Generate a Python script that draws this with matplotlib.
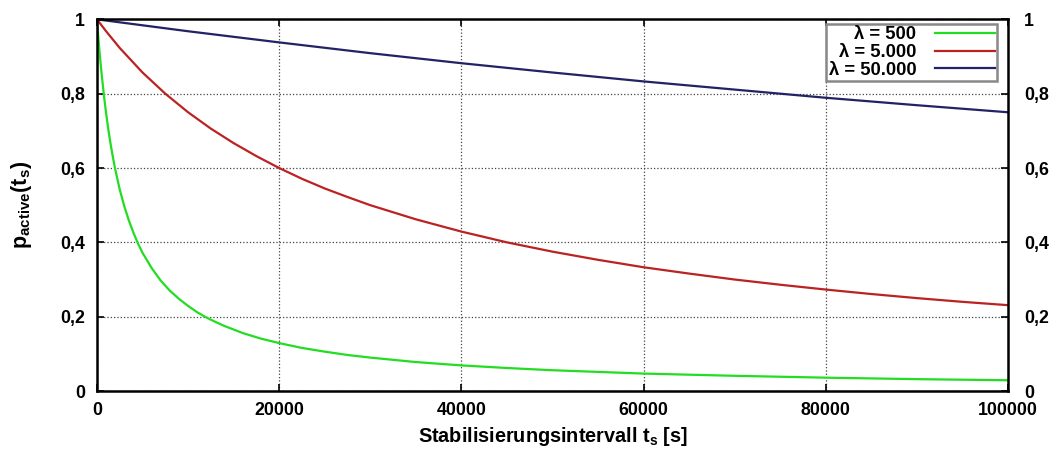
import matplotlib
matplotlib.use("Agg")
import matplotlib.pyplot as plt
from matplotlib.ticker import FuncFormatter

plt.rcParams["font.family"] = ["Liberation Sans", "DejaVu Sans"]
plt.rcParams["font.weight"] = "bold"
plt.rcParams["mathtext.fontset"] = "custom"
plt.rcParams["mathtext.rm"] = "Liberation Sans:bold"
plt.rcParams["mathtext.it"] = "Liberation Sans:bold"
plt.rcParams["mathtext.bf"] = "Liberation Sans:bold"

# -----------------------------
# DATA
# -----------------------------

t_500 = [0, 100, 250, 400, 500, 750, 1000, 1250, 1500, 1750, 2000, 2500,
         3000, 3500, 4000, 4500, 5000, 6000, 7000, 8000, 9000, 10000, 11000,
         12000, 13000, 14000, 16000, 18000, 20000, 22500, 25000, 27500,
         30000, 35000, 40000, 45000, 50000, 60000, 70000, 80000, 90000,
         100000]
p_500 = [1.000, 0.967, 0.922, 0.881, 0.856, 0.798, 0.748, 0.703, 0.664,
         0.629, 0.597, 0.542, 0.497, 0.459, 0.426, 0.397, 0.372, 0.331,
         0.297, 0.270, 0.248, 0.229, 0.212, 0.198, 0.186, 0.175, 0.156,
         0.141, 0.129, 0.116, 0.106, 0.097, 0.090, 0.078, 0.069, 0.062,
         0.056, 0.047, 0.041, 0.036, 0.032, 0.029]

t_5000 = [0, 1000, 2500, 5000, 7500, 10000, 12500, 15000, 17500, 20000,
          22500, 25000, 27500, 30000, 35000, 40000, 45000, 50000, 55000,
          60000, 65000, 70000, 75000, 80000, 85000, 90000, 95000, 100000]
p_5000 = [1.000, 0.968, 0.923, 0.857, 0.800, 0.750, 0.706, 0.667, 0.632,
          0.600, 0.571, 0.545, 0.522, 0.500, 0.462, 0.429, 0.400, 0.375,
          0.353, 0.333, 0.316, 0.300, 0.286, 0.273, 0.261, 0.250, 0.240,
          0.231]

t_50000 = [0, 10000, 20000, 30000, 40000, 50000, 60000, 70000, 80000,
           90000, 100000]
p_50000 = [1.000, 0.968, 0.938, 0.909, 0.882, 0.857, 0.833, 0.811, 0.789,
           0.769, 0.750]

labels = ["λ = 500", "λ = 5.000", "λ = 50.000"]
colors = ["#22dd22", "#bb2222", "#222266"]

x_ticks = [0, 20000, 40000, 60000, 80000, 100000]
y_ticks = [0, 0.2, 0.4, 0.6, 0.8, 1.0]

# -----------------------------
# PLOT
# -----------------------------

fig = plt.figure(figsize=(10.54, 4.5), dpi=100)
ax = fig.add_axes([0.092, 0.131, 0.8645, 0.826])

series = [(t_500, p_500), (t_5000, p_5000), (t_50000, p_50000)]
for (t, p), lab, col in zip(series, labels, colors):
    ax.plot(t, p, color=col, linewidth=1.6, label=lab)

ax.set_xlim(0, 100000)
ax.set_ylim(0, 1)
ax.set_xticks(x_ticks)
ax.set_yticks(y_ticks)

def comma_fmt(v, pos):
    if abs(v) < 1e-9:
        return "0"
    if abs(v - 1) < 1e-9:
        return "1"
    return f"{v:.1f}".replace(".", ",")

ax.yaxis.set_major_formatter(FuncFormatter(comma_fmt))
ax.xaxis.set_major_formatter(FuncFormatter(lambda v, pos: f"{int(v)}"))

ax.tick_params(axis="both", direction="in", length=5, width=1.2,
               labelsize=12.8, top=True, right=True, labelright=True)
ax.tick_params(axis="x", pad=8)
ax.tick_params(axis="y", pad=8.5)
# right hand labels sit a bit further out in the original
for t in ax.yaxis.get_major_ticks():
    t.label2.set_transform(t.label2.get_transform()
                           + matplotlib.transforms.ScaledTranslation(
                               3 / 72, 0, fig.dpi_scale_trans))

for s in ax.spines.values():
    s.set_linewidth(1.8)

ax.grid(True, linestyle=":", color="#444444", linewidth=0.9)

ax.set_xlabel(r"Stabilisierungsintervall $\mathbf{t_s}$ [s]",
              fontsize=14.3, fontweight="bold", labelpad=4)
ax.set_ylabel(r"$\mathbf{p_{active}(t_s)}$", fontsize=15.5, labelpad=19)

leg = ax.legend(loc="upper right", bbox_to_anchor=(0.988, 0.988),
                borderaxespad=0, markerfirst=False, fancybox=False,
                framealpha=1, edgecolor="#888888", fontsize=13.2,
                handlelength=3.3, labelspacing=0.05, borderpad=0.12,
                handletextpad=1.0)
leg.get_frame().set_linewidth(1.8)
vp = leg._legend_box._children[-1]._children[0]
vp.align = "right"

fig.savefig("out.png", dpi=100)
